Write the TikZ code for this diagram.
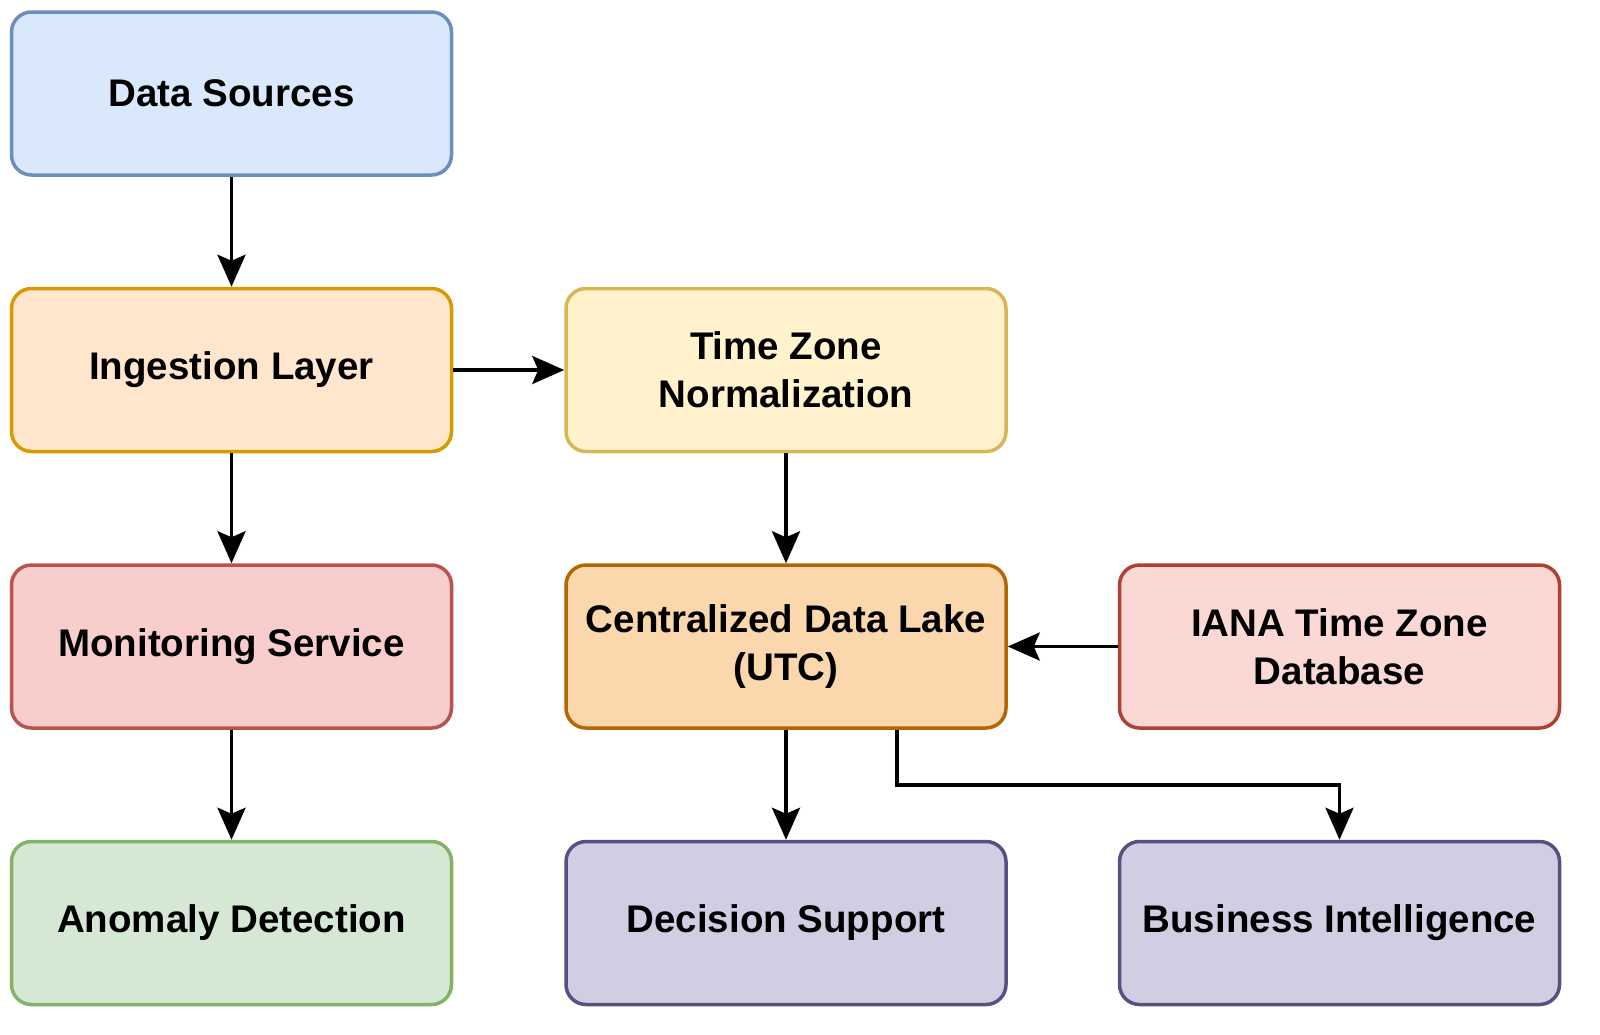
\documentclass[tikz,border=0pt]{standalone}
\usepackage{fontspec}
\setmainfont{Liberation Sans}
\usetikzlibrary{arrows.meta}
\definecolor{b1f}{HTML}{DAE8FC}\definecolor{b1d}{HTML}{6C8EBF}
\definecolor{o1f}{HTML}{FFE6CC}\definecolor{o1d}{HTML}{D79B00}
\definecolor{y1f}{HTML}{FFF2CC}\definecolor{y1d}{HTML}{D6B656}
\definecolor{r1f}{HTML}{F8CECC}\definecolor{r1d}{HTML}{B85450}
\definecolor{g1f}{HTML}{D5E8D4}\definecolor{g1d}{HTML}{82B366}
\definecolor{l1f}{HTML}{FAD7AC}\definecolor{l1d}{HTML}{B46504}
\definecolor{i1f}{HTML}{FAD9D5}\definecolor{i1d}{HTML}{AE4132}
\definecolor{p1f}{HTML}{D0CEE2}\definecolor{p1d}{HTML}{56517E}
\begin{document}
\begin{tikzpicture}[x=1pt,y=-1pt,
 box/.style={draw=#1d,fill=#1f,line width=3.5pt,rounded corners=20pt,minimum width=440pt,minimum height=163pt,
   align=center,font=\fontsize{38.5}{48}\selectfont\bfseries,inner sep=0pt},
 arr/.style={line width=3.5pt,-{Stealth[length=32pt,width=28pt,inset=6pt]}}]
\useasboundingbox (0,0) rectangle (1600,1034);
\node[box=b1] (ds) at (231.5,93.5) {Data Sources};
\node[box=o1] (ing) at (231.5,370) {Ingestion Layer};
\node[box=y1] (tz) at (786,370) {Time Zone\\Normalization};
\node[box=r1] (mon) at (231.5,646.5) {Monitoring Service};
\node[box=l1] (lake) at (786,646.5) {Centralized Data Lake\\(UTC)};
\node[box=i1] (iana) at (1339.5,646.5) {IANA Time Zone\\Database};
\node[box=g1] (an) at (231.5,923) {Anomaly Detection};
\node[box=p1] (dec) at (786,923) {Decision Support};
\node[box=p1] (bi) at (1339.5,923) {Business Intelligence};
\draw[arr] (ds) -- (ing);
\draw[arr] (ing) -- (tz);
\draw[arr] (ing) -- (mon);
\draw[arr] (mon) -- (an);
\draw[arr] (tz) -- (lake);
\draw[arr] (iana) -- (lake);
\draw[arr] (lake) -- (dec);
\draw[arr] (lake.south -| 897,0) |- (1339.5,785) -- (bi.north);
\end{tikzpicture}
\end{document}
